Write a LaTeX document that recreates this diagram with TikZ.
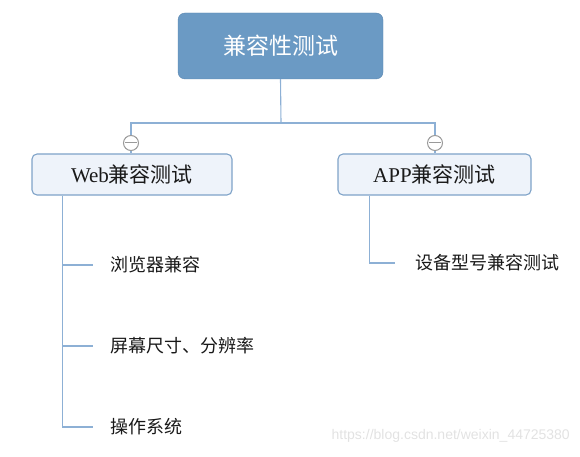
\documentclass[tikz,border=0pt]{standalone}
\usepackage{fontspec}
\setmainfont{Liberation Serif}
\setsansfont{Liberation Sans}
\newfontfamily\cjk{Noto Sans CJK SC}
\usetikzlibrary{arrows}
\usetikzlibrary{shapes}

\definecolor{rootFill}{HTML}{6B9AC4}
\definecolor{rootBorder}{HTML}{5A86B0}
\definecolor{branchFill}{HTML}{EEF3FA}
\definecolor{branchBorder}{HTML}{7FA3C8}
\definecolor{linkBlue}{HTML}{8DB0D5}
\definecolor{knobGray}{HTML}{9A9A9A}
\definecolor{markGray}{HTML}{E2E2E2}

\begin{document}
\begin{tikzpicture}[x = 1pt, y = -1pt]
	\tikzstyle{rootStyle}=[draw = rootBorder, fill = rootFill, rounded corners = 7pt, minimum width = 205pt, minimum height = 66pt, text = white, font = \cjk\fontsize{23}{23}\selectfont]
	\tikzstyle{branchStyle}=[draw = branchBorder, line width = 1.1pt, fill = branchFill, rounded corners = 5pt, minimum height = 41pt, text = black!90, font = \fontsize{21}{21}\selectfont]
	\tikzstyle{leafStyle}=[anchor = west, inner sep = 0pt, text = black!90, font = \cjk\fontsize{18}{18}\selectfont]
	\tikzstyle{knobStyle}=[shape = circle, minimum size = 15pt, inner sep = 0pt, draw = knobGray, fill = white, line width = 1pt]
	\tikzstyle{linkStyle}=[draw = linkBlue, line width = 1.1pt]
	\useasboundingbox (0,0) rectangle (580,457);
	% nodes
	\node[rootStyle] (root) at (280.5,46) {兼容性测试};
	\node[branchStyle, minimum width = 200pt] (web) at (132,174.5) {Web\cjk 兼容测试};
	\node[branchStyle, minimum width = 193pt] (app) at (434.5,174.5) {APP\cjk 兼容测试};
	\node[knobStyle] (knobWeb) at (131,143) {};
	\node[knobStyle] (knobApp) at (435,143) {};
	\node[leafStyle] (browser) at (110,265) {浏览器兼容};
	\node[leafStyle] (screen) at (110,346) {屏幕尺寸、分辨率};
	\node[leafStyle] (system) at (110,427) {操作系统};
	\node[leafStyle] (device) at (415,263) {设备型号兼容测试};
	\coordinate (split) at (281,123);
	\coordinate (webTrunk) at ([xshift = 31pt]web.south west);
	\coordinate (appTrunk) at ([xshift = 32pt]app.south west);
	% connectors
	\draw[linkStyle] (root.south) -- (split);
	\draw[linkStyle] (knobWeb.north) |- (split) -| (knobApp.north);
	\draw[linkStyle] (knobWeb.south) -- (knobWeb.south |- web.north);
	\draw[linkStyle] (knobApp.south) -- (knobApp.south |- app.north);
	\draw[linkStyle, shorten >= 17pt] (webTrunk) |- (system.west);
	\draw[linkStyle, shorten >= 17pt] (webTrunk |- browser.west) -- (browser.west);
	\draw[linkStyle, shorten >= 17pt] (webTrunk |- screen.west) -- (screen.west);
	\draw[linkStyle, shorten >= 20pt] (appTrunk) |- (device.west);
	% minus marks
	\draw[knobGray, line width = 1pt] ([xshift = 2pt]knobWeb.west) -- ([xshift = -2pt]knobWeb.east);
	\draw[knobGray, line width = 1pt] ([xshift = 2pt]knobApp.west) -- ([xshift = -2pt]knobApp.east);
	\node[anchor = east, inner sep = 0pt, text = markGray, font = \sffamily\fontsize{14}{14}\selectfont] (mark) at (570,436) {https://blog.csdn.net/weixin\_44725380};
\end{tikzpicture}
\end{document}
